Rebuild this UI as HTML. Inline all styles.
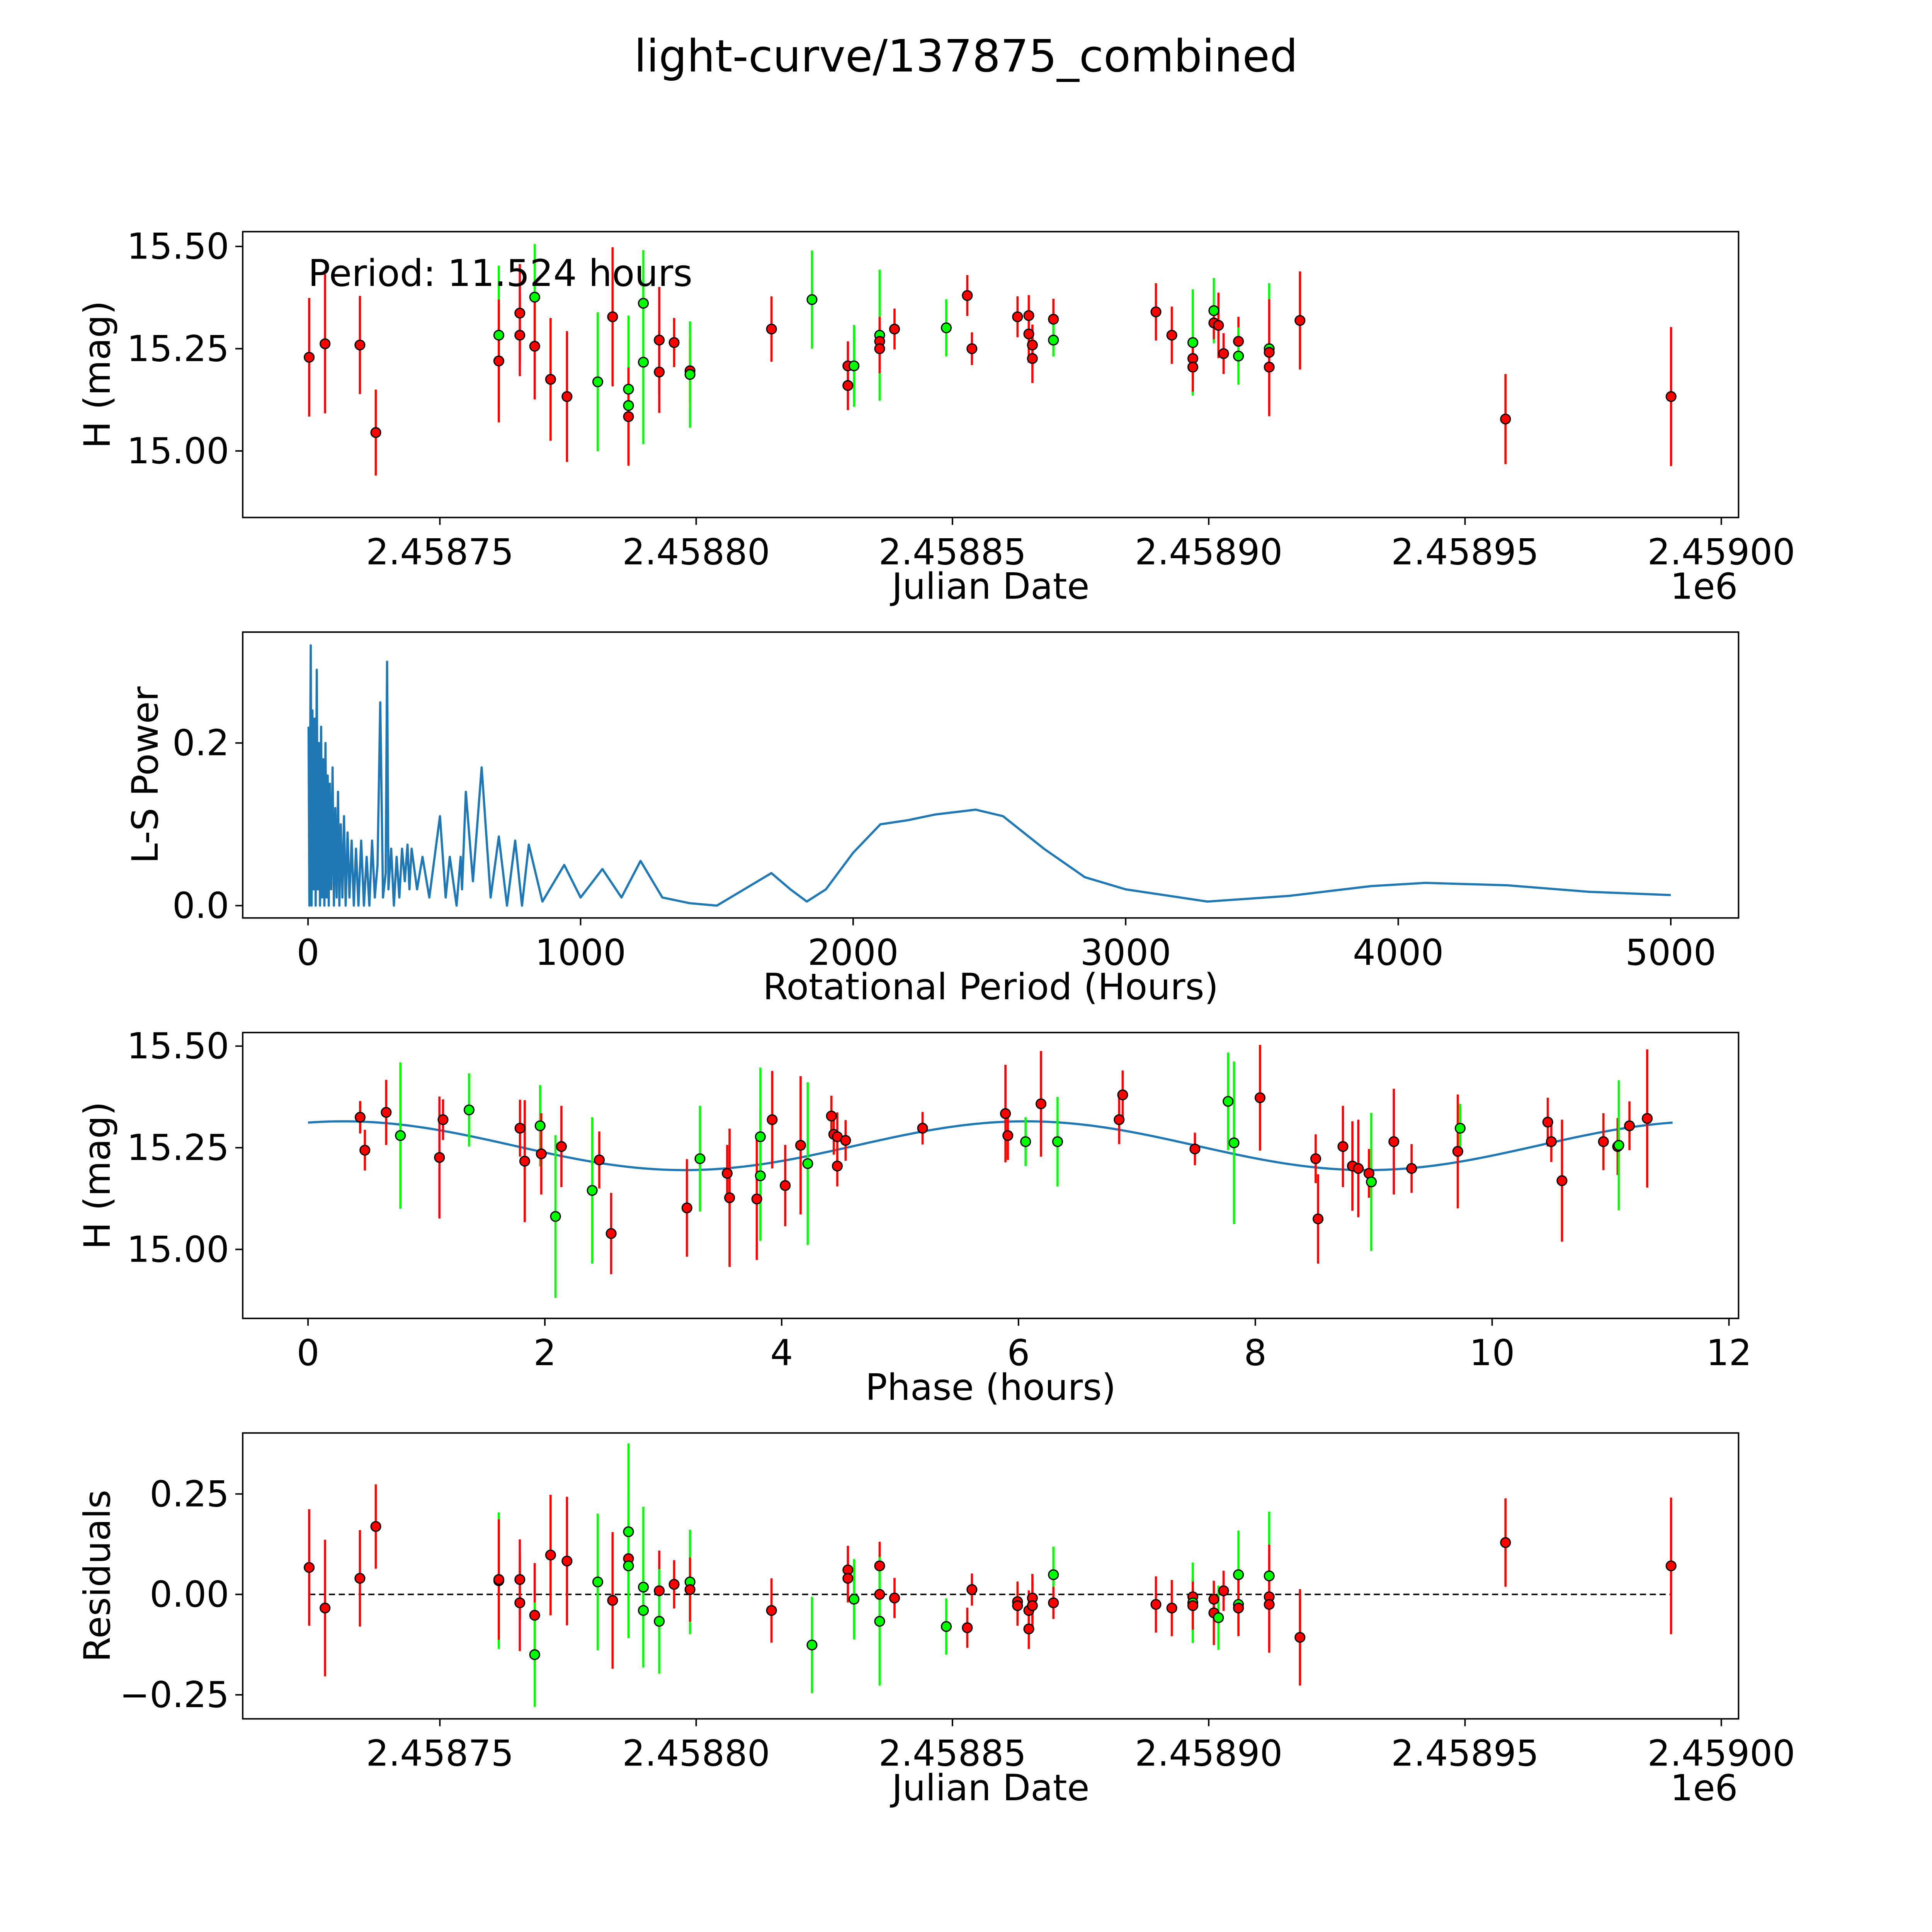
<!DOCTYPE html>
<html><head><meta charset="utf-8"><style>
html,body{margin:0;padding:0;background:#fff;width:100vw;height:100vh;overflow:hidden;}
svg{display:block;width:100vw;height:100vh;font-family:"DejaVu Sans","Liberation Sans",sans-serif;}
</style></head><body>
<svg id="fig" viewBox="0 0 1568 1568" preserveAspectRatio="none" xmlns="http://www.w3.org/2000/svg">
<rect width="1568" height="1568" fill="#fff"/>
<text x="784" y="58" font-size="36" text-anchor="middle">light-curve/137875_combined</text>
</svg>
<script>
// ---- data: panel 1 (JD - 2458700, H mag, error, color) ----
const lcDay=[24.5,27.6,34.4,37.5,61.5,61.5,65.6,65.6,68.5,68.5,71.6,74.8,80.8,83.7,86.8,86.8,86.8,89.7,89.7,92.8,92.8,95.7,98.8,98.8,114.7,122.6,129.6,129.6,130.8,135.8,135.8,135.8,138.7,148.8,152.9,153.8,162.7,164.9,164.9,165.6,165.6,169.7,169.7,189.7,192.8,196.9,196.9,196.9,201.0,201.0,201.9,202.9,205.8,205.8,211.8,211.8,211.8,217.8,257.9,290.2];
const lcMag=[15.229,15.262,15.259,15.045,15.283,15.220,15.337,15.283,15.376,15.256,15.175,15.133,15.169,15.328,15.151,15.111,15.084,15.361,15.217,15.271,15.193,15.265,15.196,15.187,15.298,15.370,15.208,15.160,15.208,15.283,15.268,15.250,15.298,15.301,15.380,15.250,15.328,15.331,15.286,15.259,15.226,15.322,15.271,15.340,15.283,15.265,15.226,15.205,15.343,15.313,15.307,15.238,15.268,15.232,15.250,15.241,15.205,15.319,15.078,15.133];
const lcErr=[0.145,0.17,0.12,0.105,0.17,0.15,0.12,0.1,0.13,0.13,0.15,0.16,0.17,0.17,0.18,0.1,0.12,0.13,0.2,0.13,0.1,0.06,0.08,0.13,0.08,0.12,0.06,0.06,0.1,0.16,0.06,0.06,0.05,0.07,0.05,0.04,0.05,0.05,0.07,0.05,0.06,0.05,0.04,0.07,0.07,0.13,0.05,0.06,0.08,0.04,0.08,0.05,0.06,0.07,0.16,0.13,0.12,0.12,0.11,0.17];
const lcCol="rrrrgrrrgrrrgrggrggrrrrgrgrrggrrrgrrrrrrrrgrrgrrgrrrrggrrrrr";
// ---- data: periodogram ----
const lsPeriod=[2,5,8,10,13,16,20,24,28,32,36,40,44,48,52,56,60,64,68,72,76,80,85,90,95,100,105,110,115,120,126,132,138,145,152,160,168,176,185,195,205,215,225,235,245,255,265,275,285,290,295,305,315,325,335,345,355,365,372,380,400,420,445,484,505,520,545,560,565,579,605,637,670,700,730,760,785,810,860,940,1000,1080,1150,1220,1300,1400,1500,1600,1700,1770,1830,1900,2000,2100,2200,2300,2450,2550,2700,2850,3000,3300,3600,3900,4100,4400,4700,5000];
const lsPower=[0.22,0.0,0.2,0.32,0.0,0.24,0.02,0.23,0.0,0.29,0.02,0.2,0.0,0.22,0.01,0.18,0.0,0.2,0.01,0.16,0.0,0.15,0.02,0.17,0.0,0.12,0.01,0.14,0.0,0.1,0.01,0.11,0.0,0.09,0.01,0.08,0.0,0.07,0.0,0.08,0.0,0.06,0.0,0.08,0.01,0.05,0.25,0.01,0.04,0.3,0.02,0.07,0.0,0.06,0.01,0.07,0.03,0.075,0.02,0.07,0.02,0.06,0.01,0.11,0.01,0.06,0.0,0.06,0.02,0.14,0.03,0.17,0.01,0.085,0.0,0.08,0.0,0.075,0.005,0.05,0.01,0.045,0.01,0.055,0.01,0.003,0.0,0.02,0.04,0.02,0.005,0.02,0.065,0.1,0.105,0.112,0.118,0.11,0.07,0.035,0.02,0.005,0.012,0.024,0.028,0.025,0.017,0.013];
// ---- data: phased ----
const phHour=[0.44,0.48,0.66,0.78,1.11,1.14,1.36,1.79,1.83,1.96,1.97,2.09,2.14,2.40,2.46,2.56,3.20,3.31,3.54,3.56,3.79,3.82,3.82,3.92,4.03,4.16,4.22,4.42,4.44,4.47,4.47,4.54,5.19,5.89,5.91,6.06,6.19,6.33,6.85,6.88,7.49,7.77,7.82,8.04,8.51,8.53,8.74,8.82,8.87,8.96,8.98,9.17,9.32,9.71,9.73,10.47,10.50,10.59,10.94,11.06,11.07,11.16,11.31];
const phMag=[15.325,15.244,15.337,15.280,15.226,15.319,15.343,15.298,15.217,15.304,15.235,15.081,15.253,15.145,15.220,15.039,15.102,15.223,15.187,15.127,15.124,15.277,15.181,15.319,15.157,15.256,15.211,15.328,15.283,15.277,15.205,15.268,15.298,15.334,15.280,15.265,15.358,15.265,15.319,15.380,15.247,15.364,15.262,15.373,15.223,15.075,15.253,15.205,15.199,15.187,15.166,15.265,15.199,15.241,15.298,15.313,15.265,15.169,15.265,15.253,15.256,15.304,15.322];
const phErr=[0.04,0.05,0.08,0.18,0.15,0.05,0.09,0.07,0.15,0.1,0.1,0.2,0.1,0.18,0.07,0.1,0.12,0.13,0.07,0.17,0.15,0.17,0.16,0.12,0.1,0.17,0.2,0.05,0.05,0.06,0.05,0.05,0.04,0.12,0.06,0.06,0.13,0.11,0.06,0.06,0.04,0.12,0.2,0.13,0.06,0.11,0.1,0.11,0.12,0.06,0.17,0.13,0.06,0.14,0.06,0.06,0.05,0.15,0.07,0.07,0.16,0.06,0.17];
const phCol="rrrgrrgrrgrgrgrrrgrrrggrrrgrrrrrrrrgrgrrrggrrrrrrrgrrrgrrrrrgrr";
const modelCoef=[15.255,0.06,0.3,11.524]; // mean, amplitude, phase offset, period
// ---- data: residuals ----
const rsDay=[24.5,27.6,34.4,37.5,61.5,61.5,65.6,65.6,68.5,68.5,71.6,74.8,80.8,83.7,86.8,86.8,86.8,89.7,89.7,92.8,92.8,95.7,98.8,98.8,114.7,122.6,129.6,129.6,130.8,135.8,135.8,135.8,138.7,148.8,152.9,153.8,162.7,162.7,164.9,164.9,165.6,165.6,169.7,169.7,189.7,192.8,196.9,196.9,196.9,201.0,201.0,201.9,202.9,205.8,205.8,205.8,211.8,211.8,211.8,217.8,257.9,290.2];
const rsVal=[0.067,-0.034,0.040,0.169,0.034,0.037,0.037,-0.021,-0.052,-0.150,0.098,0.083,0.031,-0.015,0.156,0.089,0.071,0.018,-0.040,0.009,-0.067,0.025,0.031,0.012,-0.040,-0.126,0.061,0.040,-0.012,0.071,0.0,-0.067,-0.009,-0.080,-0.083,0.012,-0.018,-0.028,-0.040,-0.086,-0.009,-0.028,0.049,-0.021,-0.025,-0.034,-0.006,-0.021,-0.028,-0.046,-0.012,-0.058,0.009,0.049,-0.025,-0.034,0.046,-0.006,-0.025,-0.107,0.129,0.071];
const rsErr=[0.145,0.17,0.12,0.105,0.17,0.15,0.1,0.12,0.13,0.13,0.15,0.16,0.17,0.17,0.22,0.1,0.18,0.2,0.13,0.1,0.13,0.06,0.13,0.08,0.08,0.12,0.06,0.06,0.1,0.06,0.06,0.16,0.05,0.07,0.05,0.04,0.05,0.05,0.05,0.05,0.06,0.06,0.07,0.04,0.07,0.07,0.05,0.1,0.06,0.08,0.04,0.08,0.05,0.11,0.06,0.07,0.16,0.13,0.12,0.12,0.11,0.17];
const rsCol="rrrrgrrrrgrrgrgrgggrgrgrrgrrgrrgrgrrrrrrrrgrrrrgrrrgrggrgrrrrr";

const NS="http://www.w3.org/2000/svg";
const svg=document.getElementById('fig');
function mk(tag,attrs,parent){const e=document.createElementNS(NS,tag);for(const k in attrs)e.setAttribute(k,attrs[k]);(parent||svg).appendChild(e);return e;}
function txt(s,x,y,size,anchor,parent,rot){const t=mk('text',{x:x,y:y,'font-size':size,'text-anchor':anchor||'middle'},parent);if(rot)t.setAttribute('transform','rotate(-90 '+x+' '+y+')');t.textContent=s;return t;}
const RED='#ff0000',GRN='#00ff00';
const TICK=29, LAB=29.5;

function panel(name,top,xs,ys,xt,xtl,yt,ytl,xlabel,ylabel,offset){
  const g=mk('g',{});
  
  
  const L=197,R=1411,T=top,B=top+232;
  mk('rect',{x:L,y:T,width:R-L,height:B-T,fill:'none',stroke:'#000','stroke-width':1.2},g);
  xt.forEach((v,i)=>{const x=xs(v);mk('line',{x1:x,x2:x,y1:B,y2:B+6,stroke:'#000','stroke-width':1.2},g);
    const t=txt(xtl[i],x,B+38,TICK,'middle',g);});
  yt.forEach((v,i)=>{const y=ys(v);mk('line',{x1:L-6,x2:L,y1:y,y2:y,stroke:'#000','stroke-width':1.2},g);
    const t=txt(ytl[i],L-11,y+10,TICK,'end',g);});
  const xl=txt(xlabel,804,B+66,LAB,'middle',g);
  
  
  const yl=txt(ylabel,top===513?128:89,(T+B)/2,LAB,'middle',g,true);
  
  
  if(offset){const o=txt('1e6',1383,B+66,TICK,'middle',g);}
  return g;
}
function points(g,xv,yv,ev,cv,xs,ys,escale){
  xv.forEach((v,i)=>{const x=xs(v),y=ys(yv[i]);const c=cv[i]==='g'?GRN:RED;const e=ev[i]*escale;
    const l=mk('line',{x1:x,x2:x,y1:y-e,y2:y+e,stroke:c,'stroke-width':1.8},g);
    
    });
  xv.forEach((v,i)=>{const x=xs(v),y=ys(yv[i]);const c=cv[i]==='g'?GRN:RED;
    const p=mk('circle',{cx:x,cy:y,r:3.9,fill:c,stroke:'#000','stroke-width':1},g);
    
    });
}
const jdTicks=[50,100,150,200,250,300],jdLabels=['2.45875','2.45880','2.45885','2.45890','2.45895','2.45900'];
const xJD=d=>357+4.16*(d-50);

// panel 1
const y1=m=>200+(15.5-m)*332;
const g1=panel('light-curve-panel',188,xJD,y1,jdTicks,jdLabels,[15.0,15.25,15.5],['15.00','15.25','15.50'],'Julian Date','H (mag)',true);
points(g1,lcDay,lcMag,lcErr,lcCol,xJD,y1,332);
const pt=txt('Period: 11.524 hours',250,232,30,'start',g1);



// panel 2
const x2=p=>250+0.2212*p, y2=v=>735-660*v;
const g2=panel('periodogram-panel',513,x2,y2,[0,1000,2000,3000,4000,5000],['0','1000','2000','3000','4000','5000'],[0,0.2],['0.0','0.2'],'Rotational Period (Hours)','L-S Power',false);
let d='';lsPeriod.forEach((p,i)=>{d+=(i?'L':'M')+x2(p).toFixed(2)+' '+y2(lsPower[i]).toFixed(2);});
const ln=mk('path',{d:d,fill:'none',stroke:'#1f77b4','stroke-width':1.8,'stroke-linejoin':'round'},g2);



// panel 3
const x3=h=>250+96.1*h, y3=m=>849+(15.5-m)*330;
const g3=panel('phase-panel',838,x3,y3,[0,2,4,6,8,10,12],['0','2','4','6','8','10','12'],[15.0,15.25,15.5],['15.00','15.25','15.50'],'Phase (hours)','H (mag)',false);
let md='';for(let i=0;i<=200;i++){const h=modelCoef[3]*i/200;const m=modelCoef[0]+modelCoef[1]*Math.cos(4*Math.PI*(h-modelCoef[2])/modelCoef[3]);md+=(i?'L':'M')+x3(h).toFixed(2)+' '+y3(m).toFixed(2);}
const mp=mk('path',{d:md,fill:'none',stroke:'#1f77b4','stroke-width':1.8},g3);


points(g3,phHour,phMag,phErr,phCol,x3,y3,330);

// panel 4
const y4=r=>1294-326*r;
const g4=panel('residuals-panel',1163,xJD,y4,jdTicks,jdLabels,[-0.25,0,0.25],['\u22120.25','0.00','0.25'],'Julian Date','Residuals',true);
const zl=mk('line',{x1:xJD(rsDay[0]),x2:xJD(rsDay[rsDay.length-1]),y1:y4(0),y2:y4(0),stroke:'#000','stroke-width':1.2,'stroke-dasharray':'5 3'},g4);


points(g4,rsDay,rsVal,rsErr,rsCol,xJD,y4,326);
</script>
</body></html>
